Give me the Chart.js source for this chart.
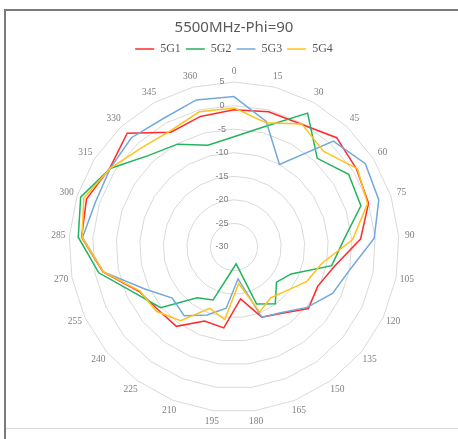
<!DOCTYPE html>
<html>
<head>
<meta charset="utf-8">
<script src="https://cdn.jsdelivr.net/npm/chart.js@4.4.0/dist/chart.umd.min.js"></script>
<style>
  html, body { margin: 0; padding: 0; background: #fff; }
  #wrap { position: relative; width: 458px; height: 439px; }
  #frame { position: absolute; left: 4px; top: 9px; right: 0; bottom: 0; border-top: 2px solid #7a7a7a; border-left: 2px solid #7a7a7a; pointer-events: none; }
  #base { position: absolute; left: 6px; right: 0; top: 428px; height: 1px; background: #d9d9d9; pointer-events: none; }
</style>
</head>
<body>
<div id="wrap">
  <canvas id="myChart"></canvas>
  <div id="frame"></div>
  <div id="base"></div>
</div>
<script>
const angles = ['0', '15', '30', '45', '60', '75', '90', '105', '120', '135', '150', '165', '180',
  '195', '210', '225', '240', '255', '270', '285', '300', '315', '330', '345', '360'];

const g1 = [-0.9, -0.4, -0.3, 1.8, 0.8, 0.0, -3.1, -8.3, -10.4, -9.5, -12.6, -14.0, -18.9,
  -12.7, -13.1, -9.2, -9.1, -7.8, -1.7, 2.4, 2.9, 1.2, 3.1, -2.2, -1.4];
const g2 = [-6.6, -3.6, 2.4, -4.2, -1.2, -1.7, -6.7, -8.9, -16.6, -18.3, -15.1, -17.0, -26.4,
  -24.6, -17.9, -16.7, -9.8, -6.9, -0.8, 3.1, 4.2, 1.1, -3.4, -5.1, -7.7];
const g3 = [1.9, -2.5, -10.0, 0.8, 3.0, 2.3, -0.2, -4.9, -6.9, -9.9, -12.8, -14.0, -23.2,
  -16.9, -14.5, -12.0, -13.0, -9.1, -1.8, 2.2, 0.9, 1.1, 1.8, 1.1, 2.2];
const g4 = [-0.5, -2.8, -0.2, -2.2, 1.0, -0.2, -4.8, -11.1, -12.9, -15.5, -16.7, -15.2, -22.2,
  -14.5, -16.0, -10.7, -8.6, -8.0, -1.8, 2.3, 3.5, 1.1, -1.2, -1.9, -0.4];

const seriesNames = ['5G1', '5G2', '5G3', '5G4'];
const colors = ['#ff2b2b', '#22b35e', '#72a9dd', '#ffc21a'];

// stretch the legend box so the plot sits lower, like the excel sheet
const legendGap = {
  id: 'legendGap',
  beforeInit(chart) {
    const fit = chart.legend.fit;
    chart.legend.fit = function () {
      fit.call(this);
      this.height += 17;
    };
  }
};

// excel style labels: angle names centred on the ray, value labels left of the axis
const radarText = {
  id: 'radarText',
  afterDraw(chart) {
    const scale = chart.scales.r;
    const ctx = chart.ctx;
    ctx.save();
    ctx.fillStyle = '#7f7f7f';
    ctx.textAlign = 'center';
    ctx.textBaseline = 'middle';
    ctx.font = '9.5px "Liberation Serif"';
    chart.data.labels.forEach((lab, i) => {
      const p = scale.getPointPosition(i, scale.drawingArea + 11);
      ctx.fillText(lab, p.x, p.y);
    });
    ctx.font = '9px "Liberation Sans"';
    scale.ticks.forEach(t => {
      const y = scale.yCenter - scale.getDistanceFromCenterForValue(t.value);
      ctx.fillText(t.label, scale.xCenter - 12, y);
    });
    ctx.restore();
  }
};

const allData = [g1, g2, g3, g4];

const data = {
  labels: angles,
  datasets: allData.map((vals, i) => ({
    label: seriesNames[i],
    data: vals,
    borderColor: colors[i],
    backgroundColor: colors[i],
    borderWidth: 1.5,
    pointRadius: 0,
    pointHoverRadius: 0,
    fill: false,
    tension: 0,
    order: allData.length - i
  }))
};

const config = {
  type: 'radar',
  data: data,
  options: {
    responsive: true,
    maintainAspectRatio: false,
    animation: false,
    devicePixelRatio: 1,
    layout: {
      padding: { top: 0, left: 20, right: 10, bottom: 27 }
    },
    scales: {
      r: {
        min: -30,
        max: 5,
        ticks: {
          stepSize: 5,
          display: false
        },
        grid: {
          color: '#d9d9d9',
          lineWidth: 1,
          circular: false
        },
        angleLines: {
          display: false
        },
        pointLabels: {
          display: false
        }
      }
    },
    plugins: {
      title: {
        display: true,
        text: '5500MHz-Phi=90',
        color: '#595959',
        font: { family: '"Noto Sans"', size: 15, weight: 'normal' },
        padding: { top: 19, bottom: 1 }
      },
      legend: {
        display: true,
        position: 'top',
        labels: {
          usePointStyle: true,
          pointStyle: 'line',
          pointStyleWidth: 19,
          padding: 5,
          color: '#595959',
          font: { family: '"Liberation Serif"', size: 12 },
          sort: (a, b) => a.datasetIndex - b.datasetIndex
        }
      },
      tooltip: { enabled: false }
    }
  },
  plugins: [legendGap, radarText]
};

const myChart = new Chart(document.getElementById('myChart'), config);
</script>
</body>
</html>
